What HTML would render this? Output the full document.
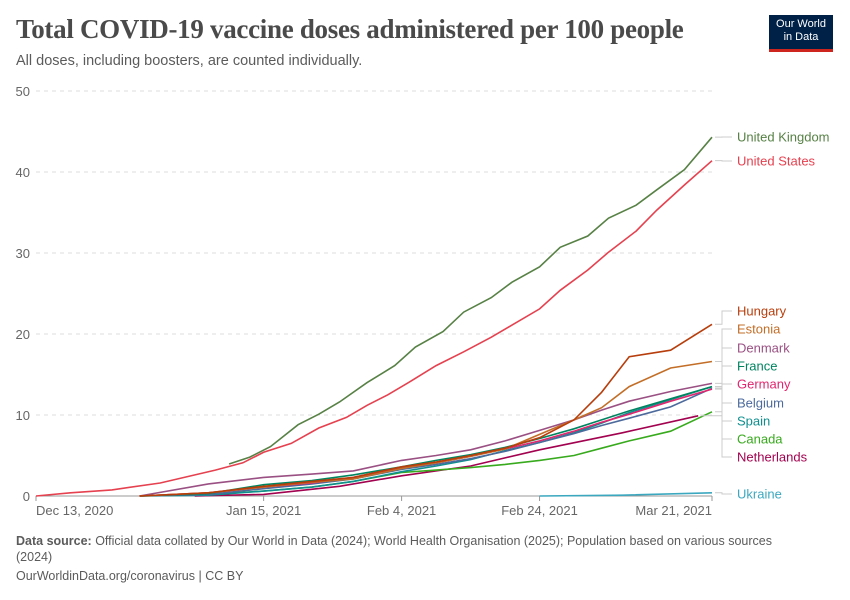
<!DOCTYPE html>
<html><head><meta charset="utf-8"><style>
body{margin:0;background:#fff;font-family:"Liberation Sans",sans-serif;}
#wrap{position:relative;width:850px;height:600px;overflow:hidden}
</style></head><body>
<div id="wrap">
<div style="position:absolute;left:16px;top:14px;font-family:'Liberation Serif',serif;font-size:27px;color:#4a4a4a;font-weight:bold;letter-spacing:-0.3px">Total COVID-19 vaccine doses administered per 100 people</div>
<div style="position:absolute;left:16px;top:53px;font-size:14.5px;color:#5b5b5b">All doses, including boosters, are counted individually.</div>
<div style="position:absolute;left:769px;top:15px;width:64px;height:37px;background:#002147;border-bottom:3px solid #ce261e;color:#fff;font-size:11px;line-height:13px;text-align:center;padding-top:3px;box-sizing:border-box">Our World<br>in Data</div>
<svg id="chart" width="850" height="600" style="position:absolute;left:0;top:0"></svg>
<div style="position:absolute;left:16px;top:533px;width:790px;font-size:12.5px;color:#5b5b5b;line-height:16px"><b>Data source:</b> Official data collated by Our World in Data (2024); World Health Organisation (2025); Population based on various sources (2024)</div>
<div style="position:absolute;left:16px;top:569px;font-size:12.5px;color:#5b5b5b">OurWorldinData.org/coronavirus | CC BY</div>
</div>
<script>
const yTicks=[0,10,20,30,40,50];
const xTickDays=[0,33,53,73,98];
const xTickLabels=["Dec 13, 2020","Jan 15, 2021","Feb 4, 2021","Feb 24, 2021","Mar 21, 2021"];
const names=["United Kingdom","United States","Hungary","Estonia","Denmark","France","Germany","Belgium","Spain","Canada","Netherlands","Ukraine"];
const colors=["#578145","#e5414f","#b73e0c","#c36e27","#9a5083","#00845f","#e0266e","#4c6a9c","#0f8f8f","#38aa1d","#a2024f","#3ca8bf"];
const labelY=[137,161,311,329,348,366,384,403,421,439,457,494];
const days0=[28,31,34,38,41,44,48,52,55,59,62,66,69,73,76,80,83,87,90,94,98];
const ukVals=[3.95,4.8,6.1,8.8,10.1,11.6,14,16.1,18.4,20.3,22.7,24.5,26.4,28.3,30.7,32.1,34.3,35.9,37.8,40.3,44.3];
const usDays=[0,5,11,18,26,30,33,37,41,45,48,51,54,58,62,66,69,73,76,80,83,87,90,94,98];
const usVals=[0,0.4,0.75,1.6,3.2,4.1,5.4,6.5,8.4,9.7,11.2,12.5,14,16.1,17.8,19.6,21.1,23.1,25.4,27.9,30.1,32.7,35.3,38.4,41.4];
const gDays=[15,25,33,40,46,53,58,63,68,73,78,82,86,92,98];
const hunVals=[0,0.4,1.2,1.8,2.3,3.6,4.2,5.0,5.9,7.2,9.4,12.8,17.2,18,21.2];
const estVals=[0,0.4,1.1,1.7,2.1,3.4,4.1,4.9,5.8,7.6,9.4,10.9,13.5,15.8,16.6];
const denVals=[0,1.5,2.3,2.7,3.1,4.4,5.0,5.7,6.8,8.1,9.4,10.6,11.7,12.9,13.9];
const fraVals=[0,0.3,1.4,1.9,2.6,3.6,4.4,5.1,6.0,7.1,8.3,9.4,10.5,12.0,13.5];
const gerVals=[0,0.4,1.1,1.6,2.3,3.5,4.1,4.9,5.8,6.8,8.0,9.1,10.1,11.7,13.2];
const belVals=[0,0.2,0.9,1.5,2.1,3.3,3.9,4.6,5.5,6.6,7.7,8.7,9.6,11.0,13.3];
const spaVals=[0,0.1,0.6,1.1,1.8,3.0,3.7,4.5,5.6,6.6,7.8,9.0,10.3,11.9,13.5];
const canVals=[0,0.2,0.6,1.1,1.8,2.9,3.2,3.5,3.9,4.4,5.0,5.9,6.8,8.0,10.4];
const nedDays=[23,33,44,53,63,73,85,96];
const nedVals=[0,0.2,1.2,2.5,3.7,5.7,7.8,9.9];
const ukrDays=[73,85,98];
const ukrVals=[0,0.1,0.4];
const seriesDays=[days0,usDays,gDays,gDays,gDays,gDays,gDays,gDays,gDays,gDays,nedDays,ukrDays];
const seriesVals=[ukVals,usVals,hunVals,estVals,denVals,fraVals,gerVals,belVals,spaVals,canVals,nedVals,ukrVals];
const x0=36,x1=712,y0=496,y1=91;
const xs=d=>x0+(x1-x0)*d/98, ys=v=>y0-(y0-y1)*v/50;
const svg=document.getElementById('chart');const NS='http://www.w3.org/2000/svg';
function mk(t,a){const e=document.createElementNS(NS,t);for(const k in a)e.setAttribute(k,a[k]);svg.appendChild(e);return e;}
yTicks.forEach(v=>{
 if(v>0){const l=mk('line',{x1:x0,x2:x1,y1:ys(v),y2:ys(v),stroke:'#ddd','stroke-dasharray':'4,4'});
 
 }
 const t=mk('text',{x:30,y:ys(v)+5,'text-anchor':'end','font-size':13,fill:'#666','font-family':'Liberation Sans'});t.textContent=v;
 
 
});
const ax=mk('line',{x1:x0,x2:x1,y1:y0,y2:y0,stroke:'#999'});


xTickDays.forEach((d,i)=>{
 const tk=mk('line',{x1:xs(d),x2:xs(d),y1:y0,y2:y0+5,stroke:'#999'});
 
 
 const anc=i==0?'start':(i==xTickDays.length-1?'end':'middle');
 const t=mk('text',{x:xs(d),y:y0+19,'text-anchor':anc,'font-size':13,fill:'#666','font-family':'Liberation Sans'});t.textContent=xTickLabels[i];
 
 
});
for(let i=seriesVals.length-1;i>=0;i--){
 const pts=seriesDays[i].map((d,j)=>xs(d).toFixed(1)+','+ys(seriesVals[i][j]).toFixed(1)).join(' ');
 const p=mk('polyline',{points:pts,fill:'none',stroke:colors[i],'stroke-width':1.6});
 
 
}
names.forEach((n,i)=>{
 const dd=seriesDays[i], vv=seriesVals[i];
 const ex=xs(dd[dd.length-1]), ey=ys(vv[vv.length-1]);
 const conn=mk('polyline',{points:`${ex+3},${ey} 722,${ey} 722,${labelY[i]} 732,${labelY[i]}`,fill:'none',stroke:'#ccc','stroke-width':1});
 
 
 const t=mk('text',{x:737,y:labelY[i]+4.5,'font-size':13,fill:colors[i],'font-family':'Liberation Sans'});t.textContent=n;
 
 
});
</script>
</body></html>
